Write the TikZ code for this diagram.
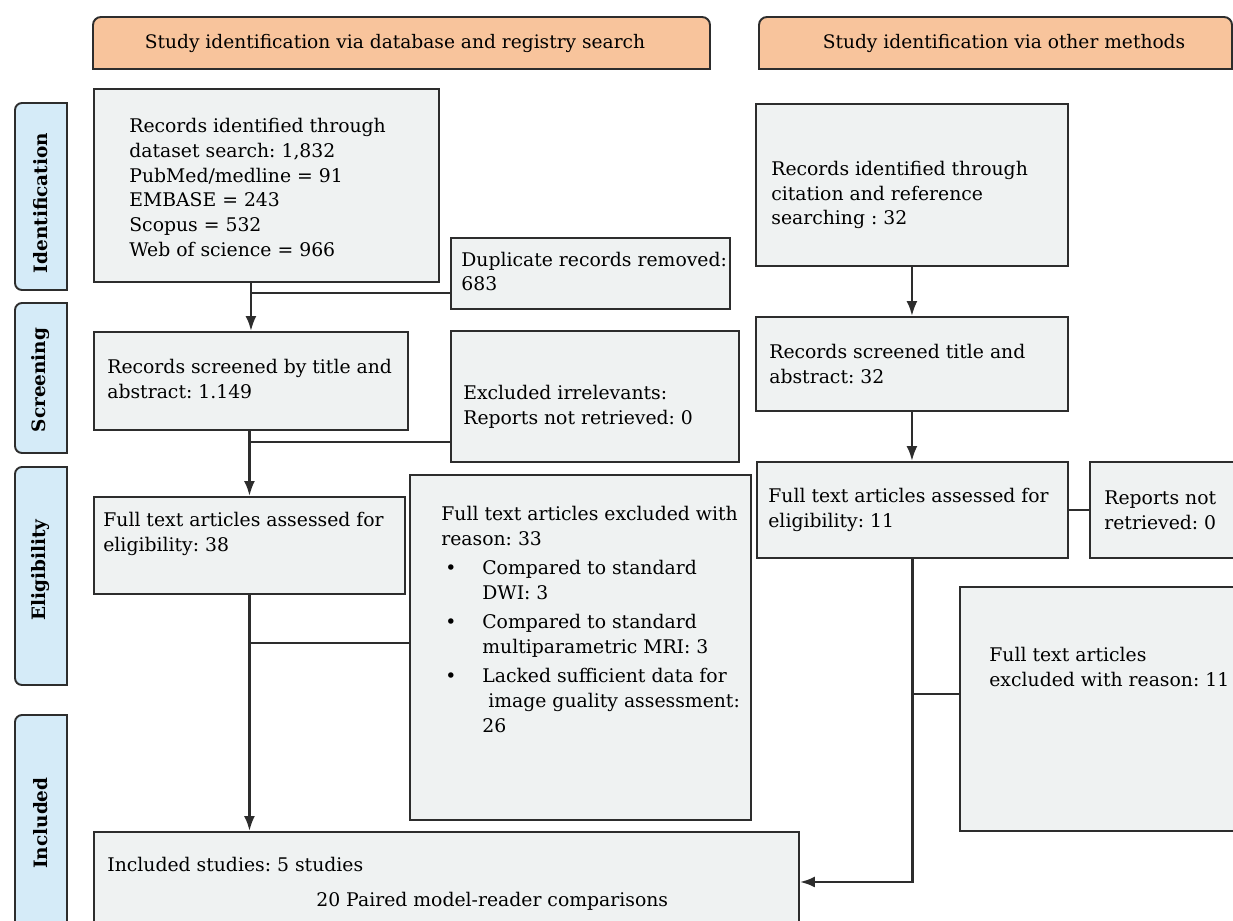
\documentclass[tikz,border=0pt]{standalone}
\usepackage{fontspec}
\setmainfont{DejaVu Serif}
\usetikzlibrary{arrows.meta}

\newlength{\px}\setlength{\px}{0.02cm}

\newcommand{\tabshape}[3]% left, top, bottom
{(#1+26,#3) [rounded corners=7\px] -- (#1,#3) -- (#1,#2) -- (#1+26,#2) [sharp corners] -- (#1+52,#2) -- (#1+52,#3) -- cycle
}
\newcommand{\headshape}[4]% left, right, top, bottom
{(#1,#4-20) [rounded corners=8\px] -- (#1,#3) -- (#2,#3) -- (#2,#4-20) [sharp corners] -- (#2,#4) -- (#1,#4) -- cycle
}
\newcommand{\blt}{\makebox[41\px][l]{\hspace{4\px}\textbullet}}
\newcommand{\bind}{\hspace*{41\px}}

\begin{document}
\frenchspacing
\begin{tikzpicture}[x=\px, y=-\px, >={Latex[length=0.3cm, width=0.22cm]},
  box/.style={draw=edge, fill=boxc, line width=1.1pt, anchor=north west, inner sep=0pt},
  txt/.style={anchor=west, align=left, inner sep=0pt, font=\fontsize{10.7}{14.2}\selectfont},
  tablabel/.style={rotate=90, font=\fontsize{10.5}{12}\selectfont\bfseries},
  headlabel/.style={font=\fontsize{10.6}{12}\selectfont},
  arr/.style={->, line width=1.4pt, draw=edge},
  side/.style={line width=0.8pt, draw=edge}]

\definecolor{hdr}{RGB}{248,196,156}
\definecolor{tabc}{RGB}{213,235,248}
\definecolor{boxc}{RGB}{239,242,242}
\definecolor{edge}{RGB}{45,45,45}

\useasboundingbox (0,0) rectangle (1233,920);

% headers
\draw[draw=edge, fill=hdr, line width=1.1pt] \headshape{93}{710}{17}{69};
\draw[draw=edge, fill=hdr, line width=1.1pt] \headshape{759}{1232}{17}{69};
\node[headlabel] (headdb) at (395,43) {Study identification via database and registry search};
\node[headlabel] (headother) at (1004,43) {Study identification via other methods};

% phase tabs
\draw[draw=edge, fill=tabc, line width=1.1pt] \tabshape{15}{103}{290};
\draw[draw=edge, fill=tabc, line width=1.1pt] \tabshape{15}{303}{453};
\draw[draw=edge, fill=tabc, line width=1.1pt] \tabshape{15}{467}{685};
\draw[draw=edge, fill=tabc, line width=1.1pt] \tabshape{15}{715}{940};
\node[tablabel] (tabid) at (41,203) {Identification};
\node[tablabel] (tabscr) at (41,380) {Screening};
\node[tablabel] (tabelig) at (41,570) {Eligibility};
\node[tablabel] (tabincl) at (41,823) {Included};

% left column
\node[box, minimum width=345\px, minimum height=193\px] (idsearch) at (93,88) {};
\node[box, minimum width=279\px, minimum height=71\px] (dupl) at (450,237) {};
\node[box, minimum width=314\px, minimum height=98\px] (screen) at (93,331) {};
\node[box, minimum width=288\px, minimum height=131\px] (irrel) at (450,330) {};
\node[box, minimum width=311\px, minimum height=97\px] (assess) at (93,496) {};
\node[box, minimum width=341\px, minimum height=345\px] (excl) at (409,474) {};
\node[box, minimum width=705\px, minimum height=100\px] (incl) at (93,831) {};

% right column
\node[box, minimum width=312\px, minimum height=162\px] (cite) at (755,103) {};
\node[box, minimum width=312\px, minimum height=94\px] (rscreen) at (755,316) {};
\node[box, minimum width=311\px, minimum height=96\px] (rassess) at (756,461) {};
\node[box, minimum width=147\px, minimum height=96\px] (rnotret) at (1089,461) {};
\node[box, minimum width=275\px, minimum height=244\px] (rexcl) at (959,586) {};

% texts
\node[txt] (idsearchtxt) at ([xshift=36\px, yshift=-2\px]idsearch.west)
  {Records identified through\\ dataset search: 1,832\\ PubMed/medline = 91\\ EMBASE = 243\\ Scopus = 532\\ Web of science = 966};
\node[txt] (dupltxt) at ([xshift=11\px, yshift=2\px]dupl.west)
  {Duplicate records removed:\\ 683};
\node[txt] (screentxt) at ([xshift=14\px, yshift=2\px]screen.west)
  {Records screened by title and\\ abstract: 1.149};
\node[txt] (irreltxt) at ([xshift=13\px, yshift=-10\px]irrel.west)
  {Excluded irrelevants:\\ Reports not retrieved: 0};
\node[txt] (assesstxt) at ([xshift=10\px, yshift=12\px]assess.west)
  {Full text articles assessed for\\ eligibility: 38};
\node[txt] (excltxt) at ([xshift=32\px, yshift=28\px]excl.west)
  {Full text articles excluded with\\ reason: 33\\[4\px]
   \blt Compared to standard\\ \bind DWI: 3\\[4\px]
   \blt Compared to standard\\ \bind multiparametric MRI: 3\\[4\px]
   \blt Lacked sufficient data for\\ \bind\ image guality assessment:\\ \bind 26};
\node[txt] (incltxt) at ([xshift=14\px, yshift=-2\px]incl.west)
  {Included studies: 5 studies\\[10\px] \hspace*{209\px}20 Paired model-reader comparisons};
\node[txt] (citetxt) at ([xshift=16\px, yshift=-10\px]cite.west)
  {Records identified through\\ citation and reference\\ searching : 32};
\node[txt] (rscreentxt) at ([xshift=14\px]rscreen.west)
  {Records screened title and\\ abstract: 32};
\node[txt] (rassesstxt) at ([xshift=12\px]rassess.west)
  {Full text articles assessed for\\ eligibility: 11};
\node[txt] (rnotrettxt) at ([xshift=15\px]rnotret.west)
  {Reports not\\ retrieved: 0};
\node[txt] (rexcltxt) at ([xshift=30\px, yshift=42\px]rexcl.west)
  {Full text articles\\ excluded with reason: 11};

% connectors, left
\coordinate (dupjoin) at (250,293);
\coordinate (irreljoin) at (248.5,442);
\coordinate (excljoin) at (248.5,643);
\draw[arr] (idsearch.south -| screen.north) -- (screen.north);
\draw[arr] (screen.south -| assess.north) -- (assess.north);
\draw[arr] (assess.south) -- (assess.south |- incl.north);
\draw[side] (dupjoin) -- (dupl.west |- dupjoin);
\draw[side] (irreljoin) -- (irrel.west |- irreljoin);
\draw[side] (excljoin) -- (excl.west |- excljoin);

% connectors, right
\coordinate (rexcljoin) at (911.5,694);
\draw[arr] (cite.south) -- (cite.south |- rscreen.north);
\draw[arr] (rscreen.south) -- (rscreen.south |- rassess.north);
\draw[side] (rassess.east) -- (rnotret.west);
\draw[arr] (rassess.south) |- (incl.east);
\draw[side] (rexcljoin) -- (rexcl.west |- rexcljoin);

\end{tikzpicture}
\end{document}
